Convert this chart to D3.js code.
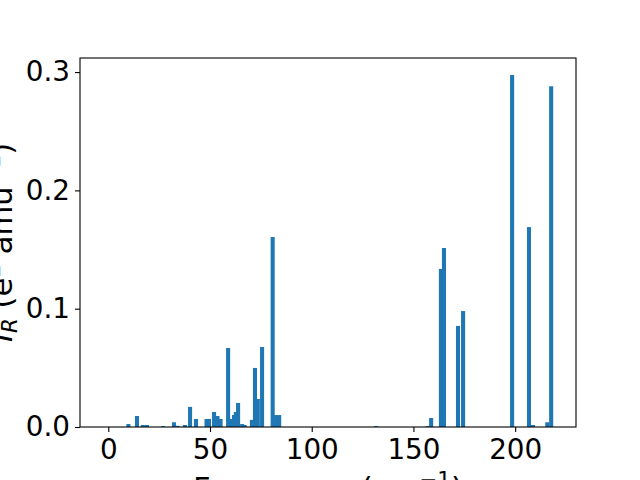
<!DOCTYPE html>
<html>
<head>
<meta charset="utf-8">
<script src="https://cdn.jsdelivr.net/npm/d3@7"></script>
<style>
  html, body { margin: 0; padding: 0; background: #fff; }
  svg { display: block; font-family: "DejaVu Sans", sans-serif; }
</style>
</head>
<body>
<svg id="chart" width="640" height="480"></svg>
<script>
// Data
const frequencies = [9.9, 14.1, 17, 19, 26.9, 32.3, 34, 37.7, 40.2, 43.1, 48.3, 49.5, 52, 53.7, 55.2, 58.9, 60.5, 61.8, 62.7, 63.8, 65.8, 67, 70.6, 72.1, 73.5, 75.6, 80.8, 82.5, 84, 131.7, 157, 158.7, 163.5, 165, 171.9, 174.4, 198.5, 206.8, 208.8, 215.8, 217.7];
const intensities = [0.0025, 0.0093, 0.0017, 0.0017, 0.0008, 0.004, 0.001, 0.0017, 0.017, 0.0068, 0.0068, 0.0068, 0.0127, 0.0093, 0.0068, 0.0668, 0.0068, 0.0101, 0.0127, 0.0203, 0.0025, 0.0017, 0.006, 0.0499, 0.0237, 0.0676, 0.1606, 0.0101, 0.0101, 0.0008, 0.0008, 0.0076, 0.1336, 0.1513, 0.0854, 0.098, 0.2975, 0.169, 0.0017, 0.004, 0.288];
const xTicks = [0, 50, 100, 150, 200];
const yTicks = [0.0, 0.1, 0.2, 0.3];
const barWidth = 2;
const xDomain = [-13.9, 229.9];
const yDomain = [0, 0.3119];

(function () {
const svg = d3.select("#chart");
const mLeft = 80, mRight = 576, mTop = 58, mBottom = 427;
const fs = 27.8, lfs = 30.6, lfsSmall = 21.4;

const x = d3.scaleLinear().domain(xDomain).range([mLeft, mRight]);
const y = d3.scaleLinear().domain(yDomain).range([mBottom, mTop]);

const data = frequencies.map((f, i) => ({ f, v: intensities[i] }));

svg.append("g").selectAll("rect").data(data).enter().append("rect")
  .attr("x", d => x(d.f - barWidth / 2))
  .attr("width", d => x(d.f + barWidth / 2) - x(d.f - barWidth / 2))
  .attr("y", d => y(d.v))
  .attr("height", d => y(0) - y(d.v))
  .attr("fill", "#1f77b4");

const xAxis = d3.axisBottom(x).tickValues(xTicks).tickFormat(d3.format("d")).tickSize(5).tickPadding(5);
const yAxis = d3.axisLeft(y).tickValues(yTicks).tickFormat(d3.format(".1f")).tickSize(5).tickPadding(5);

const gx = svg.append("g").attr("transform", `translate(0,${mBottom})`).call(xAxis);
const gy = svg.append("g").attr("transform", `translate(${mLeft},0)`).call(yAxis);
[gx, gy].forEach(g => {
  g.select(".domain").remove();
  g.selectAll("text").attr("font-size", fs).attr("font-family", "DejaVu Sans").attr("fill", "#000");
  g.selectAll("line").attr("stroke", "#000").attr("stroke-width", 1.1);
});
gx.selectAll("text").attr("dy", "0.8em");

svg.append("rect")
  .attr("x", mLeft).attr("y", mTop)
  .attr("width", mRight - mLeft).attr("height", mBottom - mTop)
  .attr("fill", "none").attr("stroke", "#000").attr("stroke-width", 1.1);

const xl = svg.append("text")
  .attr("x", (mLeft + mRight) / 2).attr("y", 499)
  .attr("text-anchor", "middle").attr("font-size", lfs).attr("fill", "#000");
xl.append("tspan").text("Frequency (cm");
xl.append("tspan").attr("dy", -12).attr("font-size", lfsSmall).text("\u22121");
xl.append("tspan").attr("dy", 12).text(")");

const yl = svg.append("text")
  .attr("transform", `translate(12,${(mTop + mBottom) / 2}) rotate(-90)`)
  .attr("text-anchor", "middle").attr("font-size", lfs).attr("fill", "#000");
yl.append("tspan").attr("font-style", "italic").text("I");
yl.append("tspan").attr("font-style", "italic").attr("dy", 5).attr("font-size", lfsSmall).text("R");
yl.append("tspan").attr("dy", -5).text(" (e");
yl.append("tspan").attr("dy", -12).attr("font-size", lfsSmall).text("2");
yl.append("tspan").attr("dy", 12).text(" amu");
yl.append("tspan").attr("dy", -12).attr("font-size", lfsSmall).text("\u22121");
yl.append("tspan").attr("dy", 12).text(")");
})();
</script>
</body>
</html>
